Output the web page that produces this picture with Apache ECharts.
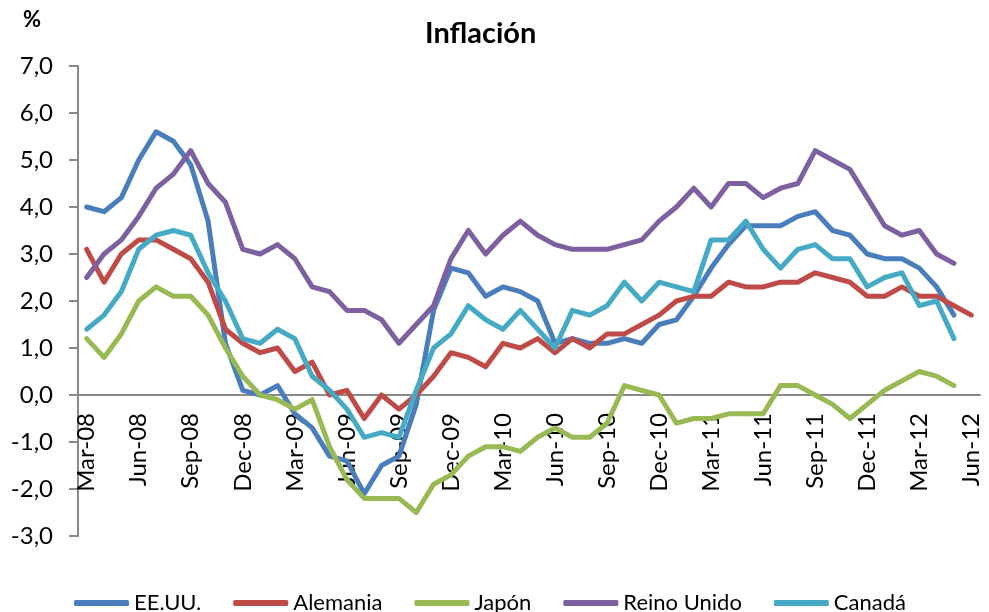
<!DOCTYPE html>
<html lang="es">
<head>
    <meta charset="UTF-8">
    <title>Inflación</title>
    <style>
        body {
            margin: 0;
            padding: 0;
            background-color: #ffffff;
        }
        #chart {
            width: 989px;
            height: 612px;
        }
    </style>
    <script src="https://cdn.jsdelivr.net/npm/echarts@6/dist/echarts.min.js"></script>
</head>
<body>
<div id="chart"></div>
<script>
    var months = [
        'Mar-08', 'Apr-08', 'May-08', 'Jun-08', 'Jul-08', 'Aug-08', 'Sep-08', 'Oct-08', 'Nov-08', 'Dec-08',
        'Jan-09', 'Feb-09', 'Mar-09', 'Apr-09', 'May-09', 'Jun-09', 'Jul-09', 'Aug-09', 'Sep-09', 'Oct-09', 'Nov-09', 'Dec-09',
        'Jan-10', 'Feb-10', 'Mar-10', 'Apr-10', 'May-10', 'Jun-10', 'Jul-10', 'Aug-10', 'Sep-10', 'Oct-10', 'Nov-10', 'Dec-10',
        'Jan-11', 'Feb-11', 'Mar-11', 'Apr-11', 'May-11', 'Jun-11', 'Jul-11', 'Aug-11', 'Sep-11', 'Oct-11', 'Nov-11', 'Dec-11',
        'Jan-12', 'Feb-12', 'Mar-12', 'Apr-12', 'May-12', 'Jun-12'
    ];

    var eeuu = [4.0, 3.9, 4.2, 5.0, 5.6, 5.4, 4.9, 3.7, 1.1, 0.1,
        0.0, 0.2, -0.4, -0.7, -1.3, -1.4, -2.1, -1.5, -1.3, -0.2, 1.8, 2.7,
        2.6, 2.1, 2.3, 2.2, 2.0, 1.1, 1.2, 1.1, 1.1, 1.2, 1.1, 1.5,
        1.6, 2.1, 2.7, 3.2, 3.6, 3.6, 3.6, 3.8, 3.9, 3.5, 3.4, 3.0,
        2.9, 2.9, 2.7, 2.3, 1.7, null];
    var alemania = [3.1, 2.4, 3.0, 3.3, 3.3, 3.1, 2.9, 2.4, 1.4, 1.1,
        0.9, 1.0, 0.5, 0.7, 0.0, 0.1, -0.5, 0.0, -0.3, 0.0, 0.4, 0.9,
        0.8, 0.6, 1.1, 1.0, 1.2, 0.9, 1.2, 1.0, 1.3, 1.3, 1.5, 1.7,
        2.0, 2.1, 2.1, 2.4, 2.3, 2.3, 2.4, 2.4, 2.6, 2.5, 2.4, 2.1,
        2.1, 2.3, 2.1, 2.1, 1.9, 1.7];
    var japon = [1.2, 0.8, 1.3, 2.0, 2.3, 2.1, 2.1, 1.7, 1.0, 0.4,
        0.0, -0.1, -0.3, -0.1, -1.1, -1.8, -2.2, -2.2, -2.2, -2.5, -1.9, -1.7,
        -1.3, -1.1, -1.1, -1.2, -0.9, -0.7, -0.9, -0.9, -0.6, 0.2, 0.1, 0.0,
        -0.6, -0.5, -0.5, -0.4, -0.4, -0.4, 0.2, 0.2, 0.0, -0.2, -0.5, -0.2,
        0.1, 0.3, 0.5, 0.4, 0.2, null];
    var reinoUnido = [2.5, 3.0, 3.3, 3.8, 4.4, 4.7, 5.2, 4.5, 4.1, 3.1,
        3.0, 3.2, 2.9, 2.3, 2.2, 1.8, 1.8, 1.6, 1.1, 1.5, 1.9, 2.9,
        3.5, 3.0, 3.4, 3.7, 3.4, 3.2, 3.1, 3.1, 3.1, 3.2, 3.3, 3.7,
        4.0, 4.4, 4.0, 4.5, 4.5, 4.2, 4.4, 4.5, 5.2, 5.0, 4.8, 4.2,
        3.6, 3.4, 3.5, 3.0, 2.8, null];
    var canada = [1.4, 1.7, 2.2, 3.1, 3.4, 3.5, 3.4, 2.6, 2.0, 1.2,
        1.1, 1.4, 1.2, 0.4, 0.1, -0.3, -0.9, -0.8, -0.9, 0.1, 1.0, 1.3,
        1.9, 1.6, 1.4, 1.8, 1.4, 1.0, 1.8, 1.7, 1.9, 2.4, 2.0, 2.4,
        2.3, 2.2, 3.3, 3.3, 3.7, 3.1, 2.7, 3.1, 3.2, 2.9, 2.9, 2.3,
        2.5, 2.6, 1.9, 2.0, 1.2, null];

    var yMin = -3, yMax = 7;
    var gridTop = 66, gridBottom = 76;
    // x axis sits at value 0: shift it up from the bottom of the grid
    var plotH = 612 - gridTop - gridBottom;
    var zeroOffset = -plotH * (0 - yMin) / (yMax - yMin);

    var chart = echarts.init(document.getElementById('chart'));

    function line(name, data, color) {
        return {
            name: name,
            type: 'line',
            data: data,
            symbol: 'none',
            showSymbol: false,
            connectNulls: false,
            itemStyle: {color: color},
            lineStyle: {color: color, width: 5, cap: 'round', join: 'round'}
        };
    }

    var option = {
        animation: false,
        textStyle: {fontFamily: 'Lato', color: '#000'},
        title: {
            text: 'Inflación',
            left: 425,
            top: 19,
            padding: 0,
            textStyle: {fontFamily: 'Lato', fontWeight: 'bold', fontSize: 29, color: '#000'}
        },
        graphic: [{
            type: 'text',
            left: 23,
            top: 9,
            style: {text: '%', font: 'bold 22px Lato', fill: '#000'}
        }],
        legend: {
            left: 74,
            top: 592,
            padding: 0,
            itemGap: 32,
            itemWidth: 55,
            itemHeight: 6,
            icon: 'roundRect',
            textStyle: {fontFamily: 'Lato', fontSize: 22, color: '#000'},
            data: ['EE.UU.', 'Alemania', 'Japón', 'Reino Unido', 'Canadá']
        },
        grid: {left: 78, right: 9, top: gridTop, bottom: gridBottom, outerBoundsMode: 'none', containLabel: false},
        xAxis: {
            type: 'category',
            data: months,
            boundaryGap: true,
            position: 'bottom',
            offset: zeroOffset,
            axisLine: {onZero: false, lineStyle: {color: '#898989', width: 2}},
            axisTick: {interval: 2, length: 7, lineStyle: {color: '#898989', width: 2}},
            axisLabel: {
                interval: 2,
                rotate: 90,
                margin: 18,
                fontFamily: 'Lato',
                fontSize: 24,
                color: '#000'
            },
            splitLine: {show: false}
        },
        yAxis: {
            type: 'value',
            min: yMin,
            max: yMax,
            interval: 1,
            axisLine: {show: true, lineStyle: {color: '#898989', width: 2}},
            axisTick: {show: true, length: 9, lineStyle: {color: '#898989', width: 2}},
            axisLabel: {
                margin: 25,
                fontFamily: 'Lato',
                fontSize: 24,
                color: '#000',
                formatter: function (v) {
                    return v.toFixed(1).replace('.', ',');
                }
            },
            splitLine: {show: false}
        },
        series: [
            line('EE.UU.', eeuu, '#4A7EBB'),
            line('Alemania', alemania, '#BE4B48'),
            line('Japón', japon, '#98B954'),
            line('Reino Unido', reinoUnido, '#7D60A0'),
            line('Canadá', canada, '#46AAC5')
        ]
    };
    chart.setOption(option);
</script>
</body>
</html>
